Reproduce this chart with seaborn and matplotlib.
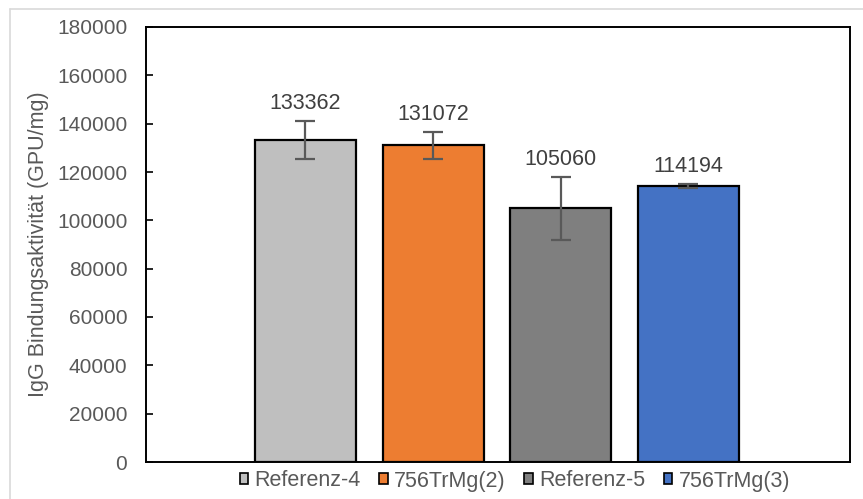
import matplotlib
matplotlib.use("Agg")
from matplotlib import pyplot as plt
from matplotlib.lines import Line2D
from matplotlib.patches import Patch
import pandas as pd
import seaborn as sns

# Werte
proben = ["Referenz-4", "756TrMg(2)", "Referenz-5", "756TrMg(3)"]
aktivitaet = [133362, 131072, 105060, 114194]
fehler = [7800, 5500, 13000, 900]
farben = ["#bfbfbf", "#ed7d31", "#7f7f7f", "#4472c4"]
y_ticks = list(range(0, 180001, 20000))

df = pd.DataFrame({"Probe": proben, "Wert": aktivitaet})

sns.set_style("white")
plt.rcParams["font.family"] = ["Liberation Sans", "DejaVu Sans"]
text_col = "#595959"

fig = plt.figure(figsize=(8.63, 4.99), dpi=100)
ax = fig.add_axes([146 / 863, 1 - 462 / 499, 704 / 863, 435 / 499])

sns.barplot(data=df, x="Probe", y="Wert", hue="Probe", order=proben,
            hue_order=proben, palette=farben, saturation=1, width=0.79, dodge=False,
            edgecolor="black", linewidth=1.6, legend=False, ax=ax)

# Fehlerbalken
ax.errorbar(range(len(proben)), aktivitaet, yerr=fehler, fmt="none",
            ecolor=text_col, elinewidth=1.6, capsize=7, capthick=1.6, zorder=5)

# Datenbeschriftungen
for i, (v, e) in enumerate(zip(aktivitaet, fehler)):
    ax.annotate(str(v), xy=(i, v + e), xytext=(0, 5), textcoords="offset points",
                ha="center", va="bottom", fontsize=15.5, color="#404040")

ax.set_xlim(-1.249, 4.265)
ax.set_ylim(0, 180000)
ax.set_yticks(y_ticks)
ax.set_yticklabels([str(t) for t in y_ticks], fontsize=15, color=text_col)
ax.set_xticks([])
ax.set_xlabel("")
ax.set_ylabel("IgG Bindungsaktivität (GPU/mg)", fontsize=15.5, color=text_col, labelpad=6)
ax.tick_params(axis="y", direction="in", length=5, width=1.2, color="black", left=True, pad=13.5)
for s in ax.spines.values():
    s.set_visible(True)
    s.set_color("black")
    s.set_linewidth(1.4)

# Legende unten
handles = [Patch(facecolor=c, edgecolor="black", linewidth=1.2) for c in farben]
leg = fig.legend(handles, proben, loc="center", bbox_to_anchor=(515 / 863, 1 - 481 / 499),
                 ncol=4, frameon=False, fontsize=15.5, handlelength=0.4, handleheight=0.4,
                 handletextpad=0.3, columnspacing=0.85, borderpad=0)
for t in leg.get_texts():
    t.set_color(text_col)

# Rahmen des Diagrammbereichs
fig.add_artist(Line2D([10 / 863, 1], [1 - 9 / 499, 1 - 9 / 499], color="#d9d9d9", lw=1.2))
fig.add_artist(Line2D([10 / 863, 10 / 863], [0, 1 - 9 / 499], color="#d9d9d9", lw=1.2))

fig.savefig("out.png", dpi=100)
plt.close(fig)
